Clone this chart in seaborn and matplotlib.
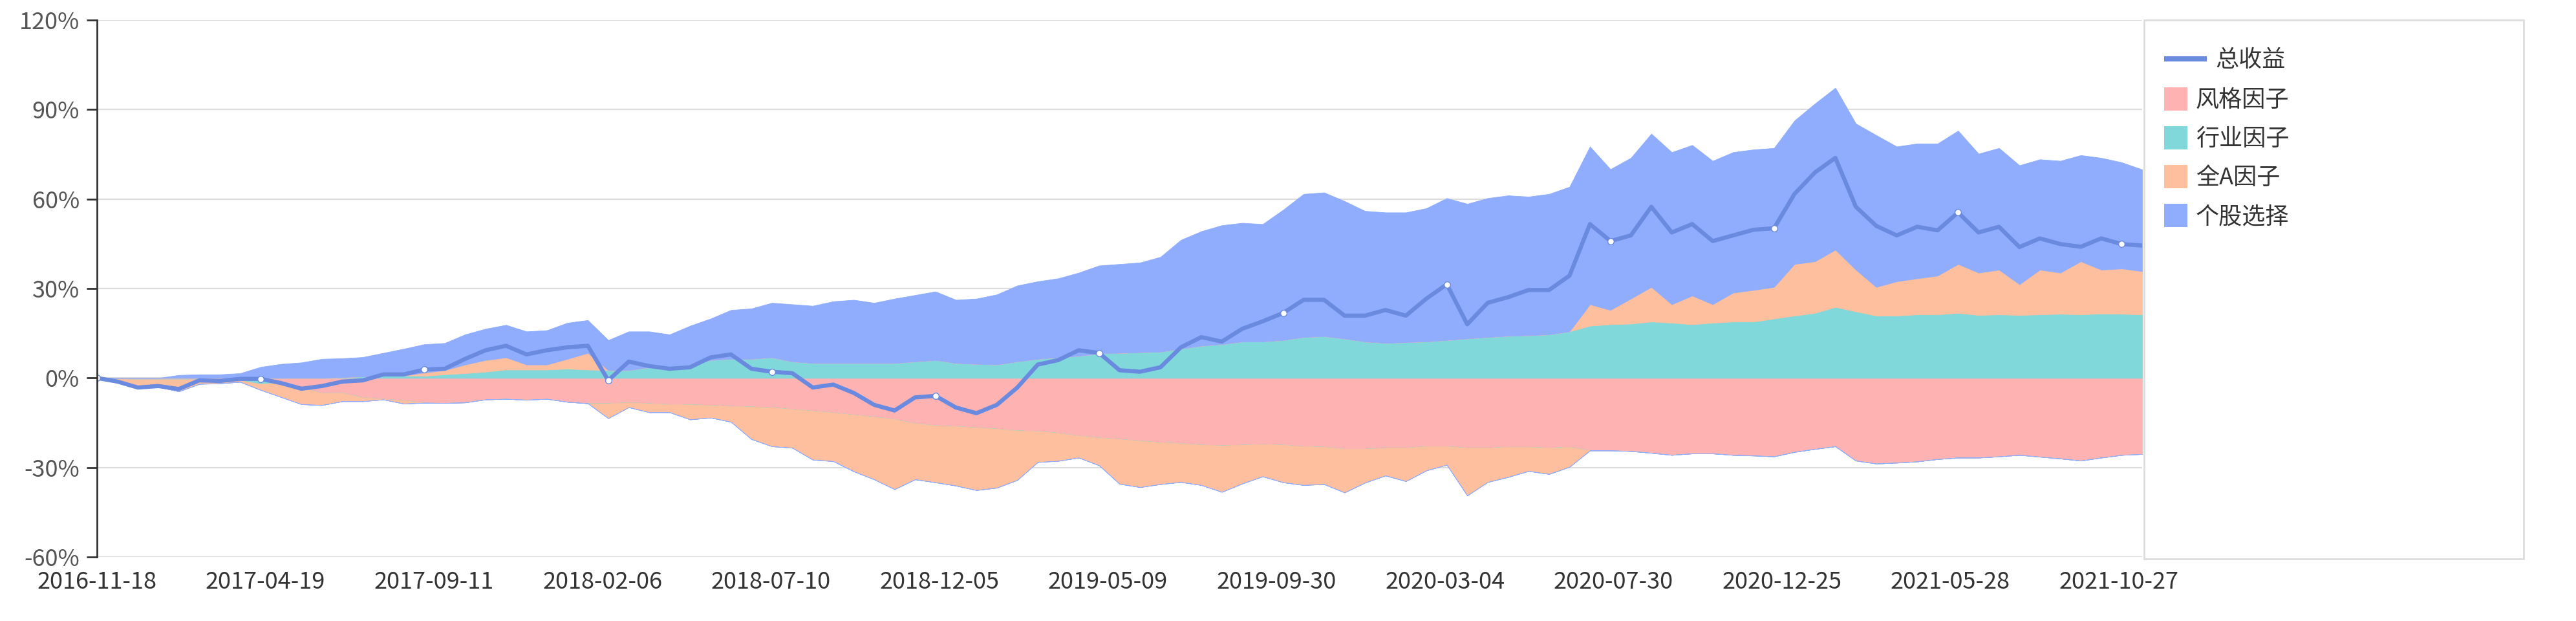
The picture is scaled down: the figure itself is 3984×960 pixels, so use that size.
import numpy as np
import matplotlib.pyplot as plt
import seaborn as sns
from matplotlib.patches import Rectangle
from matplotlib.lines import Line2D

sns.set_theme(style="white")
plt.rcParams['font.family'] = ['Noto Sans CJK SC', 'DejaVu Sans']

# x-axis labels (one every 101 trading days), 1227 trading days in total
tick_labels = ['2016-11-18', '2017-04-19', '2017-09-11', '2018-02-06', '2018-07-10',
               '2018-12-05', '2019-05-09', '2019-09-30', '2020-03-04', '2020-07-30',
               '2020-12-25', '2021-05-28', '2021-10-27']
label_every = 101
last_day = 1226

# values (%) at 101 evenly spaced dates
style = [0, -0.3, -0.5, -0.5, -0.5, -0.5, -0.8, -0.8, -0.8, -1.5,
         -3.2, -5.0, -5.0, -6.5, -7.0, -7.5, -8.3, -8.4, -8.2, -7.2,
         -7.0, -7.3, -7.0, -8.0, -8.5, -8.5, -8.2, -8.5, -8.8, -8.9,
         -9.1, -9.4, -9.6, -9.9, -10.4, -11.0, -11.6, -12.3, -13.0, -13.8,
         -15.2, -15.9, -16.2, -16.6, -17.0, -17.6, -17.8, -18.4, -19.3, -20.0,
         -20.5, -21.0, -21.6, -21.9, -22.4, -22.6, -22.4, -22.2, -22.4, -22.9,
         -23.1, -23.8, -23.8, -23.4, -23.4, -22.9, -22.9, -23.4, -23.4, -23.1,
         -23.1, -23.4, -23.1, -24.3, -24.3, -24.5, -25.1, -25.8, -25.3, -25.3,
         -25.8, -26.0, -26.3, -24.8, -23.8, -22.9, -27.7, -28.7, -28.4, -28.0,
         -27.2, -26.7, -26.7, -26.3, -25.8, -26.4, -27.0, -27.7, -26.7, -25.8,
         -25.5]
industry = [0, 0, 0, 0, 0, 0, 0, 0, -1.2, 0,
            0, 0, 0.3, 0.5, 0.7, 0.8, 0.7, 1.2, 1.6, 2.1,
            2.8, 2.8, 2.8, 3.1, 2.8, 2.6, 2.6, 3.6, 3.7, 4.5,
            6.0, 6.4, 6.4, 6.9, 5.5, 5.0, 5.0, 5.0, 5.0, 5.0,
            5.5, 6.0, 5.0, 4.7, 4.5, 5.5, 6.4, 6.9, 7.4, 8.2,
            8.4, 8.6, 8.8, 9.8, 10.8, 11.3, 12.2, 12.2, 12.7, 13.7,
            14.0, 13.2, 12.2, 11.7, 12.0, 12.2, 12.7, 13.2, 13.7, 14.1,
            14.3, 14.6, 15.6, 17.5, 18.0, 18.2, 18.9, 18.5, 18.0, 18.5,
            18.9, 18.9, 19.9, 20.9, 21.8, 23.8, 22.3, 20.9, 20.9, 21.3,
            21.3, 21.8, 21.1, 21.3, 21.1, 21.3, 21.5, 21.3, 21.6, 21.5,
            21.3]
market = [0, -1.0, -3.0, -2.5, -4.0, -1.5, -1.0, -0.5, -2.0, -4.9,
          -5.6, -4.1, -2.8, -1.3, -0.2, -1.1, 1.1, 1.4, 2.9, 3.9,
          4.1, 1.7, 1.7, 3.3, 5.6, -5.0, -1.6, -3.0, -2.7, -5.0,
          -4.2, -5.3, -10.9, -13.0, -13.0, -16.4, -16.3, -19.0, -21.0, -23.5,
          -18.8, -19.1, -19.9, -21.0, -19.8, -16.6, -10.4, -9.4, -7.4, -9.3,
          -15.0, -15.6, -14.0, -13.0, -13.5, -15.6, -13.0, -10.8, -12.6, -13.0,
          -12.5, -14.6, -11.3, -9.3, -11.2, -8.1, -6.2, -16.0, -11.5, -10.1,
          -8.1, -8.8, -6.7, 7.2, 4.8, 8.4, 11.6, 6.2, 9.6, 6.2,
          9.7, 10.6, 10.6, 17.3, 17.3, 19.2, 14.0, 9.6, 11.5, 12.1,
          13.0, 16.4, 14.2, 15.0, 10.3, 15.0, 13.8, 17.8, 14.7, 15.2,
          14.5]
stock = [0, 0, 0, 0, 1.0, 1.2, 1.2, 1.6, 3.7, 4.7,
         5.2, 6.4, 6.3, 6.5, 7.7, 9.0, 9.5, 9.1, 10.1, 10.5,
         10.9, 11.1, 11.5, 12.1, 11.0, 10.1, 13.0, 12.0, 10.9, 13.0,
         13.9, 16.4, 16.9, 18.3, 19.2, 19.2, 20.7, 21.2, 20.2, 21.6,
         22.3, 23.0, 21.2, 21.9, 23.5, 25.5, 26.0, 26.5, 27.9, 29.5,
         29.8, 30.1, 31.8, 36.5, 38.4, 39.9, 39.8, 39.4, 43.7, 48.0,
         48.2, 46.1, 43.8, 43.8, 43.5, 44.7, 47.6, 45.2, 46.6, 47.1,
         46.5, 47.1, 48.5, 52.9, 47.2, 47.2, 51.4, 51.0, 50.5, 48.1,
         47.1, 47.1, 46.6, 48.1, 52.9, 54.3, 49.0, 50.9, 45.2, 45.2,
         44.3, 44.7, 39.9, 40.8, 39.9, 37.0, 37.5, 35.6, 37.5, 35.6,
         34.1]
total = [0, -1.2, -3.2, -2.7, -3.7, -0.8, -1.0, -0.3, -0.3, -1.7,
         -3.6, -2.7, -1.2, -0.8, 1.2, 1.2, 2.8, 3.1, 6.4, 9.3,
         10.8, 7.9, 9.3, 10.3, 10.8, -0.8, 5.5, 4.0, 3.1, 3.6,
         6.9, 7.9, 3.1, 2.1, 1.6, -3.2, -2.2, -5.0, -9.0, -10.9,
         -6.5, -6.0, -9.9, -11.8, -9.0, -3.2, 4.5, 6.0, 9.3, 8.4,
         2.6, 2.1, 3.6, 10.3, 13.7, 12.2, 16.5, 19.0, 21.8, 26.2,
         26.2, 20.9, 20.9, 22.8, 20.9, 26.6, 31.4, 18.0, 25.2, 27.1,
         29.5, 29.5, 34.3, 51.6, 45.9, 47.8, 57.4, 48.8, 51.6, 45.9,
         47.8, 49.7, 50.2, 61.7, 68.9, 73.8, 57.4, 51.0, 47.8, 50.7,
         49.5, 55.5, 48.8, 50.7, 43.9, 46.8, 44.9, 44.0, 46.8, 44.9,
         44.4]

names = ['风格因子', '行业因子', '全A因子', '个股选择']
colors = ['#feb3b2', '#80d8da', '#fdbf9d', '#8fadfc']
line_color = '#6a8ae0'

days = np.linspace(0, last_day, len(total))
tick_pos = np.arange(len(tick_labels)) * label_every

W, H = 3984, 960
fig = plt.figure(figsize=(W / 100, H / 100), dpi=100)
ax = fig.add_axes([150 / W, 1 - 861 / H, (3313 - 150) / W, (861 - 31) / H])

# stacked areas, positives and negatives stacked separately
pos_base = np.zeros(len(days))
neg_base = np.zeros(len(days))
for vals, c in zip([style, industry, market, stock], colors):
    v = np.array(vals, dtype=float)
    pos = np.clip(v, 0, None)
    neg = np.clip(v, None, 0)
    ax.fill_between(days, pos_base, pos_base + pos, color=c, lw=0.6, edgecolor=c, zorder=2)
    ax.fill_between(days, neg_base, neg_base + neg, color=c, lw=0.6, edgecolor=c, zorder=2)
    pos_base = pos_base + pos
    neg_base = neg_base + neg

# total return line, symbols shown at labelled dates
mark_idx = [int(np.abs(days - t).argmin()) for t in tick_pos]
sns.lineplot(x=days, y=total, ax=ax, color=line_color, lw=4.6, zorder=4,
             marker='o', markevery=mark_idx, markersize=7,
             markerfacecolor='white', markeredgecolor=line_color, markeredgewidth=1,
             legend=False)

ax.set_xlim(0, last_day)
ax.set_ylim(-60, 120)
ax.set_yticks([-60, -30, 0, 30, 60, 90, 120])
ax.set_yticklabels([f'{t}%' for t in [-60, -30, 0, 30, 60, 90, 120]])
ax.set_xticks(tick_pos)
ax.set_xticklabels(tick_labels)
ax.set_xlabel('')
ax.set_ylabel('')

ax.yaxis.grid(True, color='#dcdcdc', lw=1.6, zorder=1)
ax.xaxis.grid(False)
ax.set_axisbelow(True)
for s in ['top', 'right', 'bottom']:
    ax.spines[s].set_visible(False)
ax.spines['left'].set_color('#333333')
ax.spines['left'].set_linewidth(2)
ax.spines['left'].set_zorder(5)
ax.tick_params(axis='y', length=11.5, width=2, color='#333333', pad=8,
               labelsize=26, labelcolor='#555555', left=True)
ax.tick_params(axis='x', length=0, pad=15, labelsize=26, labelcolor='#333333')

# legend panel
def fx(px):
    return px / W

def fy(py):
    return 1 - py / H

fig.add_artist(Rectangle((fx(3316), fy(864)), fx(3903) - fx(3316), fy(31) - fy(864),
                         transform=fig.transFigure, fill=False, edgecolor='#dcdcdc', lw=2))
fig.add_artist(Line2D([fx(3347), fx(3413)], [fy(91), fy(91)], transform=fig.transFigure,
                      color=line_color, lw=5.8, solid_capstyle='butt'))
fig.text(fx(3426), fy(93), '总收益', fontsize=26, color='#333333', va='center', ha='left')
for k, (name, c) in enumerate(zip(names, colors)):
    yc = 153 + 60 * k
    fig.add_artist(Rectangle((fx(3347), fy(yc + 18)), fx(3383) - fx(3347), fy(yc - 18) - fy(yc + 18),
                             transform=fig.transFigure, facecolor=c, edgecolor='none'))
    fig.text(fx(3396), fy(yc + 2), name, fontsize=26, color='#333333', va='center', ha='left')

fig.savefig('out.png', dpi=100)
